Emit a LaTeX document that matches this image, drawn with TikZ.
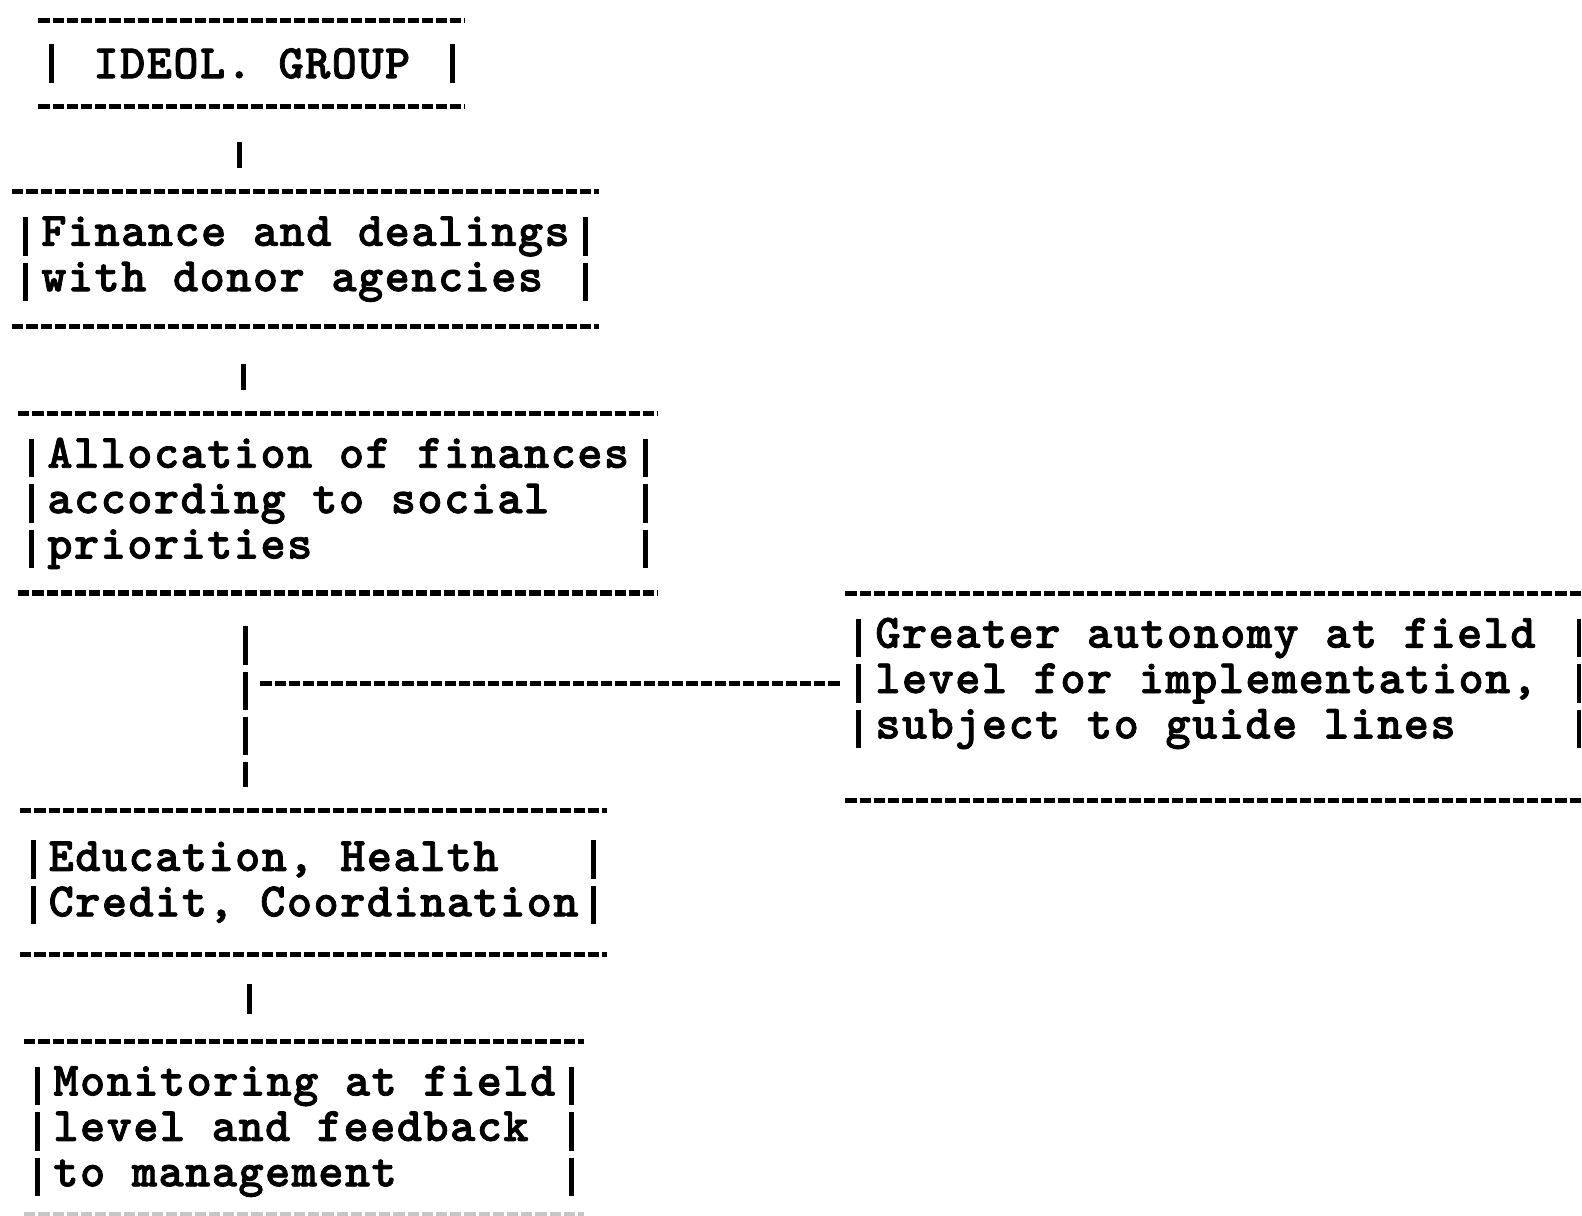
\documentclass[tikz,border=0pt]{standalone}
\usepackage{fontspec}
\newfontfamily\tw{lmmonolt10-bold.otf}[LetterSpace=3.0, FakeBold=1.6]
\begin{document}
\begin{tikzpicture}[x=0.5045pt,y=-0.5045pt,
  hdash/.style={line width=2.6pt, dash pattern=on 5.6pt off 1.5pt},
  vbar/.style={line width=2.4pt},
  box/.style={rectangle, anchor=north west, inner sep=0pt, align=left,
    font=\tw\fontsize{24}{22.7}\selectfont},
]
\useasboundingbox (0,0) rectangle (1568,1205);

% boxes
\node[box, minimum width=213.1pt, minimum height=42.9pt] (b1) at (38,20) {IDEOL. GROUP};
\node[box, minimum width=293.0pt, minimum height=67.1pt] (b2) at (12,190)
  {Finance and dealings\\with donor agencies};
\node[box, minimum width=319.7pt, minimum height=89.3pt] (b3) at (18,410)
  {Allocation of finances\\according to social\\priorities};
\node[box, minimum width=372.9pt, minimum height=89.8pt] (r) at (838,588)
  {Greater autonomy at field\hspace*{13.32pt}\\level for implementation,\\subject to guide lines};
\node[box, minimum width=293.0pt, minimum height=71.6pt] (b4) at (20,803)
  {Education, Health\\Credit, Coordination};
\node[box, minimum width=279.7pt, minimum height=89.8pt] (b5) at (24,1032)
  {Monitoring at field\\level and feedback\\to management};

% frames: top/bottom dashed rules
\foreach \n/\e in {b1/0, b2/0, b3/0, r/27, b4/0} {
  \draw[hdash] (\n.north west) -- (\n.north east);
  \draw[hdash] ([yshift=-\e*0.5045pt]\n.south west) -- ([yshift=-\e*0.5045pt]\n.south east);
}
\draw[hdash] (b5.north west) -- (b5.north east);
\draw[hdash, gray!45] ([yshift=3.5pt]b5.south west) -- ([yshift=3.5pt]b5.south east);
% side bars, one per text line
\foreach \n/\k in {b1/1, b2/2, b3/3, r/3, b4/2, b5/3} {
  \pgfmathsetmacro\hh{(\k*22.5-3.5)*0.5045}
  \draw[vbar, dash pattern=on 19.2pt off 3.5pt] ([xshift=6.56pt,yshift=\hh pt]\n.west) -- ([xshift=6.56pt,yshift=-\hh pt]\n.west);
  \draw[vbar, dash pattern=on 19.2pt off 3.5pt] ([xshift=-6.56pt,yshift=\hh pt]\n.east) -- ([xshift=-6.56pt,yshift=-\hh pt]\n.east);
}

% connectors
\coordinate (c1) at (237,0);
\coordinate (c2) at (241,0);
\coordinate (c3) at (243,0);
\coordinate (c4) at (247,0);
\draw[vbar, shorten <=17.7pt, shorten >=11.6pt] (b1.south -| c1) -- (b2.north -| c1);
\draw[vbar, shorten <=18.7pt, shorten >=11.6pt] (b2.south -| c2) -- (b3.north -| c2);
\draw[vbar, dash pattern=on 19.2pt off 3.5pt, shorten <=16.6pt, shorten >=11.6pt] (b3.south -| c3) -- (b4.north -| c3);
\draw[vbar, shorten <=15.1pt, shorten >=13.6pt] (b4.south -| c4) -- (b5.north -| c4);
\draw[hdash, shorten <=7.6pt, shorten >=1.5pt] (r.west -| c3) -- (r.west);
\end{tikzpicture}
\end{document}
